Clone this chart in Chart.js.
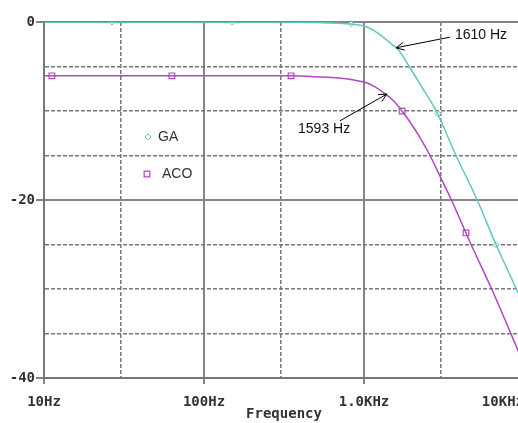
<!DOCTYPE html>
<html>
<head>
<meta charset="utf-8">
<script src="https://cdn.jsdelivr.net/npm/chart.js@4.4.0/dist/chart.umd.min.js"></script>
<style>
  html, body { margin: 0; padding: 0; background: #fff; overflow: hidden; }
  #wrap { width: 580px; height: 423px; }
</style>
</head>
<body>
<div id="wrap"><canvas id="bode" width="580" height="423"></canvas></div>
<script>
// GA trace: frequency (Hz) and gain (dB)
const gaFreq = [10, 100, 300, 500, 700, 850, 1000, 1150, 1315, 1480, 1631, 1919, 2350, 2830, 3758, 5100, 6683, 9173, 10000];
const gaDb = [0, 0, 0, -0.05, -0.15, -0.25, -0.45, -0.95, -1.7, -2.45, -3.1, -5, -7.6, -10, -15, -20, -25, -30.4, -31.9];
// ACO trace
const acoFreq = [10, 100, 350, 500, 700, 850, 1000, 1150, 1315, 1518, 1730, 2000, 2239, 2585, 3000, 3520, 4670, 6280, 9173, 10000];
const acoDb = [-6.05, -6.05, -6.05, -6.15, -6.3, -6.5, -6.75, -7.2, -7.9, -8.8, -10, -11.6, -13.0, -15, -17.4, -20, -25, -30, -36.9, -38.5];
// symbols drawn on the traces
const gaMarkFreq = [26.6, 150, 830, 2900, 6680];
const gaMarkDb = [0, 0, -0.2, -10.3, -25];
const acoMarkFreq = [11.2, 63, 350, 1730, 4340];
const acoMarkDb = [-6.05, -6.05, -6.05, -10, -23.7];

const freqTicks = [10, 100, 1000, 10000];
// last label is pushed left so it ends at the axis end, like the original
const freqLabels = ['10Hz', '100Hz', '1.0KHz', '10KHz     '];
const freqMinor = [30, 300, 3000];
const dbTicks = [0, -20, -40];
const dbLabels = ['0', '-20', '-40'];
const dbMinor = [-5, -10, -15, -25, -30, -35];

const gaColor = '#5ec8c1';
const acoColor = '#b048bf';

// arrows with cutoff text (data coords)
const notes = [
    { text: '1610 Hz', tip: [1585, -2.9], tail: [3450, -1.7], at: [3700, -1.45] },
    { text: '1593 Hz', tip: [1390, -8.1], tail: [708, -11.1], at: [387, -12.0] }
];

function pts(xs, ys) {
    return xs.map(function (x, i) { return { x: x, y: ys[i] }; });
}

function isMinor(ctx, list) {
    return ctx.tick && list.indexOf(ctx.tick.value) >= 0;
}

const notesPlugin = {
    id: 'notes',
    afterDatasetsDraw: function (chart) {
        const ctx = chart.ctx;
        const xs = chart.scales.x, ys = chart.scales.y;
        ctx.save();
        ctx.strokeStyle = '#000';
        ctx.fillStyle = '#111';
        ctx.lineWidth = 1;
        ctx.font = '14px "Liberation Sans", Arial, sans-serif';
        ctx.textBaseline = 'middle';
        notes.forEach(function (n) {
            const tx = xs.getPixelForValue(n.tip[0]), ty = ys.getPixelForValue(n.tip[1]);
            const sx = xs.getPixelForValue(n.tail[0]), sy = ys.getPixelForValue(n.tail[1]);
            const a = Math.atan2(sy - ty, sx - tx);
            ctx.beginPath();
            ctx.moveTo(sx, sy);
            ctx.lineTo(tx, ty);
            ctx.moveTo(tx + 9 * Math.cos(a + 0.45), ty + 9 * Math.sin(a + 0.45));
            ctx.lineTo(tx, ty);
            ctx.lineTo(tx + 9 * Math.cos(a - 0.45), ty + 9 * Math.sin(a - 0.45));
            ctx.stroke();
            ctx.fillText(n.text, xs.getPixelForValue(n.at[0]), ys.getPixelForValue(n.at[1]));
        });
        // legend inside plot
        const area = chart.chartArea;
        const items = [
            { label: 'GA', ds: 2, dx: 104, dy: 115, gap: 10 },
            { label: 'ACO', ds: 3, dx: 103, dy: 152, gap: 15 }
        ];
        ctx.font = '14px "Liberation Sans", Arial, sans-serif';
        ctx.fillStyle = '#333';
        items.forEach(function (it) {
            const d = chart.data.datasets[it.ds];
            const px = area.left + it.dx, py = area.top + it.dy;
            ctx.save();
            ctx.fillStyle = '#fff';
            ctx.strokeStyle = d.borderColor;
            ctx.lineWidth = d.borderWidth;
            Chart.helpers.drawPoint(ctx, { pointStyle: d.pointStyle, radius: d.pointRadius, borderWidth: d.borderWidth, rotation: 0 }, px, py);
            ctx.restore();
            ctx.fillText(it.label, px + it.gap, py);
        });
        ctx.restore();
    }
};

new Chart(document.getElementById('bode'), {
    type: 'line',
    data: {
        datasets: [
            { label: 'GA', data: pts(gaFreq, gaDb), borderColor: gaColor, borderWidth: 1.5, pointRadius: 0, cubicInterpolationMode: 'monotone' },
            { label: 'ACO', data: pts(acoFreq, acoDb), borderColor: acoColor, borderWidth: 1.5, pointRadius: 0, cubicInterpolationMode: 'monotone' },
            { label: 'GA marks', data: pts(gaMarkFreq, gaMarkDb), showLine: false, borderColor: gaColor, backgroundColor: '#fff', pointStyle: 'rectRot', pointRadius: 3, borderWidth: 1 },
            { label: 'ACO marks', data: pts(acoMarkFreq, acoMarkDb), showLine: false, borderColor: acoColor, backgroundColor: '#fff', pointStyle: 'rect', pointRadius: 4, borderWidth: 1.2 }
        ]
    },
    options: {
        responsive: false,
        animation: false,
        devicePixelRatio: 1,
        layout: { padding: { top: 22, right: 56, bottom: 0, left: 0 } },
        plugins: { legend: { display: false }, tooltip: { enabled: false } },
        scales: {
            x: {
                type: 'logarithmic',
                min: 10,
                max: 10000,
                afterBuildTicks: function (axis) {
                    axis.ticks = freqTicks.concat(freqMinor).sort(function (a, b) { return a - b; }).map(function (v) { return { value: v }; });
                },
                afterFit: function (axis) { axis.height = 45; },
                ticks: {
                    autoSkip: false,
                    maxRotation: 0,
                    padding: 10,
                    color: '#333',
                    font: { family: '"DejaVu Sans Mono", monospace', size: 14, weight: 'bold' },
                    callback: function (value) {
                        const i = freqTicks.indexOf(value);
                        return i < 0 ? '' : freqLabels[i];
                    }
                },
                grid: {
                    color: function (ctx) { return isMinor(ctx, freqMinor) ? '#777' : '#858585'; },
                    lineWidth: function (ctx) { return isMinor(ctx, freqMinor) ? 1.5 : 2; },
                    tickColor: function (ctx) { return isMinor(ctx, freqMinor) ? 'rgba(0,0,0,0)' : '#858585'; },
                    tickLength: 6,
                    tickWidth: 2
                },
                border: {
                    color: '#777',
                    width: 2,
                    dash: function (ctx) { return isMinor(ctx, freqMinor) ? [4, 2] : []; }
                },
                title: {
                    display: true,
                    text: 'Frequency',
                    color: '#333',
                    font: { family: '"DejaVu Sans Mono", monospace', size: 14, weight: 'bold' },
                    padding: { top: 0, bottom: 0 }
                }
            },
            y: {
                min: -40,
                max: 0,
                afterBuildTicks: function (axis) {
                    axis.ticks = dbTicks.concat(dbMinor).sort(function (a, b) { return b - a; }).map(function (v) { return { value: v }; });
                },
                afterFit: function (axis) { axis.width = 44; },
                ticks: {
                    autoSkip: false,
                    padding: 1,
                    color: '#333',
                    font: { family: '"DejaVu Sans Mono", monospace', size: 14, weight: 'bold' },
                    callback: function (value) {
                        const i = dbTicks.indexOf(value);
                        return i < 0 ? '' : dbLabels[i];
                    }
                },
                grid: {
                    color: function (ctx) { return isMinor(ctx, dbMinor) ? '#777' : '#858585'; },
                    lineWidth: function (ctx) { return isMinor(ctx, dbMinor) ? 1.5 : 2; },
                    tickColor: function (ctx) { return isMinor(ctx, dbMinor) ? 'rgba(0,0,0,0)' : '#858585'; },
                    tickLength: 8,
                    tickWidth: 2
                },
                border: {
                    color: '#777',
                    width: 2,
                    dash: function (ctx) { return isMinor(ctx, dbMinor) ? [4, 2] : []; }
                }
            }
        }
    },
    plugins: [notesPlugin]
});
</script>
</body>
</html>
